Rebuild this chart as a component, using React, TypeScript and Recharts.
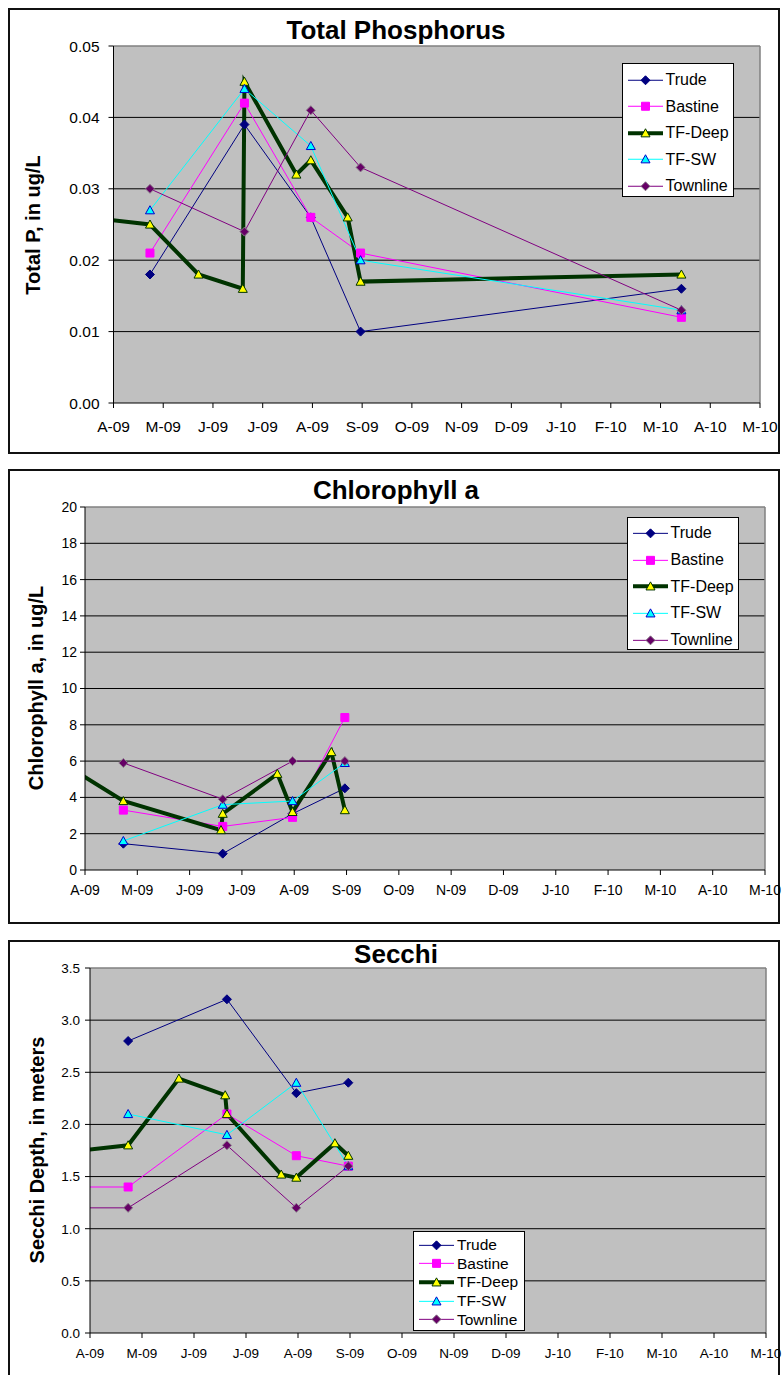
import { LineChart, Line, XAxis, YAxis, CartesianGrid, ReferenceLine, Legend } from "recharts";

const FONT = '"Liberation Sans", Arial, Helvetica, sans-serif';

// Month ticks, Apr 2009 through May 2010
const MONTH_LABELS = ["A-09", "M-09", "J-09", "J-09", "A-09", "S-09", "O-09", "N-09", "D-09", "J-10", "F-10", "M-10", "A-10", "M-10"];
const MONTH_TICKS = MONTH_LABELS.map((_, i) => i);

// Sampling dates: the shore stations and the deep-water station
const STATION_DATES = ["2009-03-15", "2009-04-23", "2009-06-20", "2009-07-31", "2009-08-31", "2010-03-14"];
const DEEP_DATES = ["2009-03-15", "2009-04-23", "2009-05-23", "2009-06-19", "2009-06-20", "2009-07-22", "2009-07-31", "2009-08-23", "2009-08-31", "2010-03-14"];

// Total phosphorus (ug/L as recorded)
const TP_TRUDE = [null, 0.018, 0.039, 0.026, 0.01, 0.016];
const TP_BASTINE = [null, 0.021, 0.042, 0.026, 0.021, 0.012];
const TP_TFSW = [null, 0.027, 0.044, 0.036, 0.02, 0.013];
const TP_TOWNLINE = [null, 0.03, 0.024, 0.041, 0.033, 0.013];
const TP_TFDEEP = [0.026, 0.025, 0.018, 0.016, 0.045, 0.032, 0.034, 0.026, 0.017, 0.018];
const TP_TICKS = [0, 0.01, 0.02, 0.03, 0.04, 0.05];

// Chlorophyll a
const CHL_TRUDE = [null, 1.45, 0.9, 3.1, 4.5, null];
const CHL_BASTINE = [null, 3.3, 2.4, 2.9, 8.4, null];
const CHL_TFSW = [null, 1.6, 3.6, 3.8, 5.9, null];
const CHL_TOWNLINE = [null, 5.9, 3.9, 6.0, 6.0, null];
const CHL_TFDEEP = [6.1, 3.8, null, 2.2, 3.1, 5.3, 3.2, 6.5, 3.3, null];
const CHL_TICKS = [0, 2, 4, 6, 8, 10, 12, 14, 16, 18, 20];

// Secchi depth (m)
const SECCHI_TRUDE = [null, 2.8, 3.2, 2.3, 2.4, null];
const SECCHI_BASTINE = [1.4, 1.4, 2.1, 1.7, 1.6, null];
const SECCHI_TFSW = [null, 2.1, 1.9, 2.4, 1.6, null];
const SECCHI_TOWNLINE = [1.2, 1.2, 1.8, 1.2, 1.6, null];
const SECCHI_TFDEEP = [1.73, 1.8, 2.44, 2.28, 2.1, 1.52, 1.49, 1.82, 1.7, null];
const SECCHI_TICKS = [0, 0.5, 1, 1.5, 2, 2.5, 3, 3.5];

type MarkerKind = "diamond" | "square" | "triangle";
interface Station { name: string; stroke: string; width: number; marker: MarkerKind; fill: string; edge: string }

const STATIONS: Station[] = [
  { name: "Trude", stroke: "#000080", width: 1, marker: "diamond", fill: "#000080", edge: "#000080" },
  { name: "Bastine", stroke: "#FF00FF", width: 1, marker: "square", fill: "#FF00FF", edge: "#FF00FF" },
  { name: "TF-Deep", stroke: "#003300", width: 4, marker: "triangle", fill: "#FFFF00", edge: "#003300" },
  { name: "TF-SW", stroke: "#00FFFF", width: 1, marker: "triangle", fill: "#00FFFF", edge: "#0000CC" },
  { name: "Townline", stroke: "#800080", width: 1, marker: "diamond", fill: "#660066", edge: "#8a7a8a" },
];

// fractional month index, 0 = 1 Apr 2009, so every month gets the same width
function monthPos(d: string) {
  const [y, m, day] = d.split("-").map(Number);
  const daysIn = new Date(y, m, 0).getDate();
  return (y - 2009) * 12 + (m - 4) + (day - 1) / daysIn;
}

function toPoints(dates: string[], vals: (number | null)[]) {
  const out: { x: number; y: number }[] = [];
  vals.forEach((v, i) => {
    if (v != null) out.push({ x: monthPos(dates[i]), y: v });
  });
  return out;
}

function markerPath(kind: MarkerKind, cx: number, cy: number) {
  if (kind === "diamond") {
    const s = 4.5;
    return `M${cx},${cy - s}L${cx + s},${cy}L${cx},${cy + s}L${cx - s},${cy}Z`;
  }
  if (kind === "square") {
    const s = 4;
    return `M${cx - s},${cy - s}h${2 * s}v${2 * s}h${-2 * s}Z`;
  }
  const s = 4.5;
  return `M${cx},${cy - s}L${cx + s},${cy + s * 0.8}L${cx - s},${cy + s * 0.8}Z`;
}

const renderDot = (st: Station) => (p: any) => {
  if (p.cx == null || p.cy == null) return <g key={`${st.name}-${p.index}`} />;
  return (
    <path key={`${st.name}-${p.index}`} d={markerPath(st.marker, p.cx, p.cy)}
      fill={st.fill} stroke={st.edge} strokeWidth={1} />
  );
};

function StationLegend({ payload, fontSize, rowH, padTop }: any) {
  // keep the series order rather than the legend's alphabetical sort
  const items = STATIONS.filter(st => (payload ?? []).some((e: any) => e.value === st.name));
  return (
    <div style={{
      width: "100%", height: "100%", boxSizing: "border-box", border: "1.5px solid #000",
      background: "#fff", paddingTop: padTop, fontFamily: FONT, fontSize, color: "#000",
    }}>
      {items.map(st => (
        <div key={st.name} style={{ display: "flex", alignItems: "center", height: rowH, whiteSpace: "nowrap" }}>
          <svg width={43} height={rowH} style={{ flex: "none" }}>
            <line x1={5} x2={40} y1={rowH / 2} y2={rowH / 2} stroke={st.stroke} strokeWidth={st.width} />
            <path d={markerPath(st.marker, 22.5, rowH / 2)} fill={st.fill} stroke={st.edge} strokeWidth={1} />
          </svg>
          <span>{st.name}</span>
        </div>
      ))}
    </div>
  );
}

interface PanelSpec {
  title: string;
  yLabel: string;
  top: number;
  boxH: number;
  chartH: number;
  margin: { top: number; right: number; bottom: number; left: number };
  yTicks: number[];
  decimals: number;
  tickFont: number;
  tickGapX: number;
  tickGapY: number;
  titleTop: number;
  yLabelX: number;
  yLabelY: number;
  legend: { left: number; top: number; width: number; height: number; fontSize: number; rowH: number; padTop: number };
  series: { x: number; y: number }[][];
}

const PANELS: PanelSpec[] = [
  {
    title: "Total Phosphorus",
    yLabel: "Total P, in ug/L",
    top: 8, boxH: 446, chartH: 445,
    margin: { top: 38, right: 22, bottom: 20, left: 53.5 },
    yTicks: TP_TICKS, decimals: 2, tickFont: 15.5, tickGapX: 13, tickGapY: 9,
    titleTop: 16.5, yLabelX: 33, yLabelY: 225,
    legend: { left: 621.5, top: 55, width: 112, height: 134, fontSize: 16, rowH: 26.5, padTop: 2.75 },
    series: [
      toPoints(STATION_DATES, TP_TRUDE),
      toPoints(STATION_DATES, TP_BASTINE),
      toPoints(DEEP_DATES, TP_TFDEEP),
      toPoints(STATION_DATES, TP_TFSW),
      toPoints(STATION_DATES, TP_TOWNLINE),
    ],
  },
  {
    title: "Chlorophyll a",
    yLabel: "Chlorophyll a, in ug/L",
    top: 469, boxH: 455, chartH: 454,
    margin: { top: 38, right: 17, bottom: 23, left: 25 },
    yTicks: CHL_TICKS, decimals: 0, tickFont: 14, tickGapX: 10, tickGapY: 3,
    titleTop: 477, yLabelX: 36, yLabelY: 687.5,
    legend: { left: 626.5, top: 48, width: 112, height: 133, fontSize: 16, rowH: 26.7, padTop: 2 },
    series: [
      toPoints(STATION_DATES, CHL_TRUDE),
      toPoints(STATION_DATES, CHL_BASTINE),
      toPoints(DEEP_DATES, CHL_TFDEEP),
      toPoints(STATION_DATES, CHL_TFSW),
      toPoints(STATION_DATES, CHL_TOWNLINE),
    ],
  },
  {
    title: "Secchi",
    yLabel: "Secchi Depth, in meters",
    top: 940, boxH: 460, chartH: 435,
    margin: { top: 28, right: 16, bottom: 12, left: 30 },
    yTicks: SECCHI_TICKS, decimals: 1, tickFont: 13.5, tickGapX: 10, tickGapY: 5,
    titleTop: 941.3, yLabelX: 37, yLabelY: 1150,
    legend: { left: 413, top: 291, width: 112, height: 100, fontSize: 15.5, rowH: 18.7, padTop: 3.6 },
    series: [
      toPoints(STATION_DATES, SECCHI_TRUDE),
      toPoints(STATION_DATES, SECCHI_BASTINE),
      toPoints(DEEP_DATES, SECCHI_TFDEEP),
      toPoints(STATION_DATES, SECCHI_TFSW),
      toPoints(STATION_DATES, SECCHI_TOWNLINE),
    ],
  },
];

function Panel({ p }: { p: PanelSpec }) {
  const yMax = p.yTicks[p.yTicks.length - 1];
  const inner = p.yTicks.slice(1, -1);
  const tickStyle = { fontSize: p.tickFont, fill: "#000", fontFamily: FONT };
  return (
    <>
      <div style={{
        position: "absolute", left: 8, top: p.top, width: 772, height: p.boxH,
        border: "2px solid #111", boxSizing: "border-box", background: "#fff",
      }} />
      <div style={{ position: "absolute", left: 0, top: p.top }}>
        <LineChart width={782} height={p.chartH} margin={p.margin}>
          <CartesianGrid vertical={false} horizontalValues={inner} stroke="#000" strokeWidth={1} fill="#C0C0C0" fillOpacity={1} />
          <XAxis type="number" dataKey="x" domain={[0, MONTH_TICKS.length - 1]} ticks={MONTH_TICKS}
            allowDataOverflow interval={0} height={30} tickSize={5} tickMargin={p.tickGapX}
            tickFormatter={(v: number) => MONTH_LABELS[v]} tick={tickStyle}
            axisLine={{ stroke: "#000" }} tickLine={{ stroke: "#000" }} />
          <YAxis type="number" domain={[0, yMax]} ticks={p.yTicks} interval={0} width={60}
            tickSize={5} tickMargin={p.tickGapY}
            tickFormatter={(v: number) => v.toFixed(p.decimals)} tick={tickStyle}
            axisLine={{ stroke: "#000" }} tickLine={{ stroke: "#000" }} />
          <ReferenceLine y={yMax} stroke="#808080" strokeWidth={1.5} />
          <ReferenceLine x={MONTH_TICKS.length - 1} stroke="#808080" strokeWidth={1.5} />
          {STATIONS.map((st, i) => (
            <Line key={st.name} name={st.name} data={p.series[i]} dataKey="y" type="linear"
              stroke={st.stroke} strokeWidth={st.width} dot={renderDot(st)} activeDot={false}
              isAnimationActive={false} />
          ))}
          <Legend layout="vertical" align="center" verticalAlign="middle"
            wrapperStyle={{ left: p.legend.left, top: p.legend.top, width: p.legend.width, height: p.legend.height }}
            content={(props: any) => (
              <StationLegend payload={props.payload} fontSize={p.legend.fontSize}
                rowH={p.legend.rowH} padTop={p.legend.padTop} />
            )} />
        </LineChart>
      </div>
      <div style={{
        position: "absolute", left: 96, top: p.titleTop, width: 600, textAlign: "center",
        fontFamily: FONT, fontWeight: "bold", fontSize: 26, lineHeight: "26px", color: "#000",
      }}>{p.title}</div>
      <div style={{
        position: "absolute", left: p.yLabelX, top: p.yLabelY, whiteSpace: "nowrap",
        transform: "translate(-50%, -50%) rotate(-90deg)", fontFamily: FONT, fontWeight: "bold",
        fontSize: 20, lineHeight: "20px", color: "#000",
      }}>{p.yLabel}</div>
    </>
  );
}

export default function App() {
  return (
    <div style={{
      position: "absolute", left: 0, top: 0, width: 782, height: 1375, overflow: "hidden",
      background: "#fff", fontFamily: FONT,
    }}>
      {PANELS.map(p => <Panel key={p.title} p={p} />)}
    </div>
  );
}
